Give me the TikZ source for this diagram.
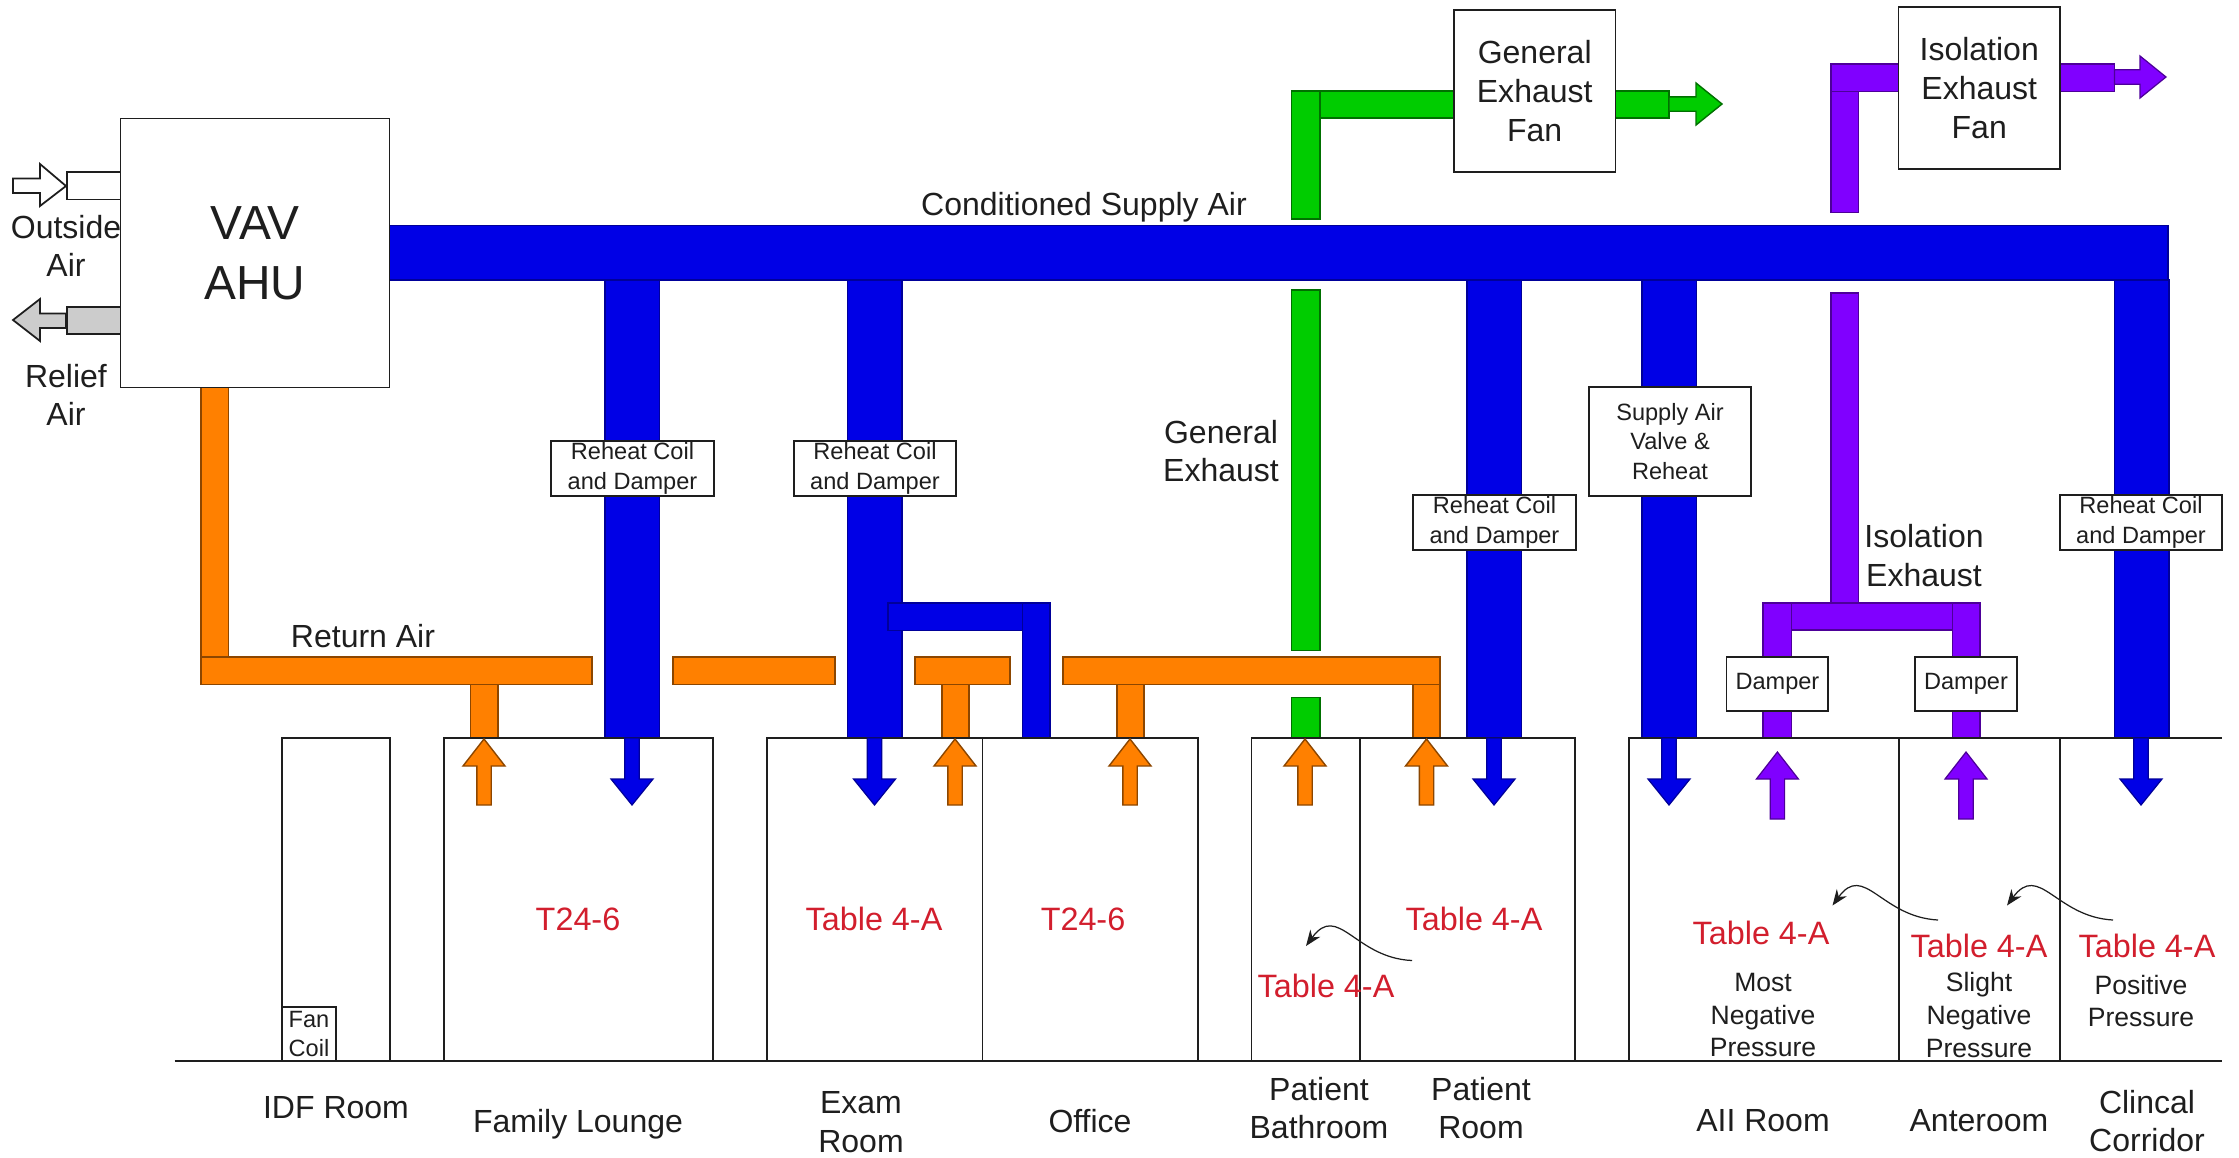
\documentclass[tikz,border=0pt]{standalone}
\usepackage{fontspec}
\setmainfont{Liberation Sans}
\usetikzlibrary{arrows.meta}
\definecolor{DuctBlue}{RGB}{0,0,230}
\definecolor{DuctOrange}{RGB}{255,128,0}
\definecolor{DuctGreen}{RGB}{0,204,0}
\definecolor{DuctPurple}{RGB}{128,0,255}
\definecolor{ReliefGray}{RGB}{204,204,204}
\definecolor{CodeRed}{RGB}{210,30,45}
\definecolor{InkGray}{RGB}{30,30,30}
\newcommand{\upflow}[3]{% x, tip, tail
  (#1-7.2,#3) -- (#1-7.2,#2+27) -- (#1-21,#2+27) -- (#1,#2)
  -- (#1+21,#2+27) -- (#1+7.2,#2+27) -- (#1+7.2,#3) -- cycle}
\newcommand{\downflow}[1]{% x
  (#1-7.2,738) -- (#1-7.2,779) -- (#1-21,779) -- (#1,805)
  -- (#1+21,779) -- (#1+7.2,779) -- (#1+7.2,738) -- cycle}
\newcommand{\rightflow}[3]{% x start, y, x tip
  (#1,#2-7.2) -- (#3-26,#2-7.2) -- (#3-26,#2-21) -- (#3,#2)
  -- (#3-26,#2+21) -- (#3-26,#2+7.2) -- (#1,#2+7.2) -- cycle}
\begin{document}
\begin{tikzpicture}[
          x=0.01cm, y=-0.01cm,
          bd/.style={draw=blue!60!black, fill=DuctBlue, line width=0.35pt},
          od/.style={draw=DuctOrange!55!black, fill=DuctOrange, line width=0.4pt},
          gd/.style={draw=DuctGreen!55!black, fill=DuctGreen, line width=0.4pt},
          pd/.style={draw=DuctPurple!60!black, fill=DuctPurple, line width=0.35pt},
          room/.style={draw=InkGray, line width=0.5pt},
          unit/.style={rectangle, draw=InkGray, fill=white, line width=0.5pt, inner sep=0pt,
                       text=InkGray, align=center},
          coil/.style={unit, font=\fontsize{6.7}{8.4}\selectfont},
          fan/.style={unit, minimum width=46mm/2.85, minimum height=46mm/2.85,
                      font=\fontsize{9.1}{11}\selectfont},
          lbl/.style={text=InkGray, align=center, inner sep=0pt,
                      font=\fontsize{9.1}{11}\selectfont},
          note/.style={text=InkGray, align=center, inner sep=0pt,
                       font=\fontsize{7.55}{9.3}\selectfont},
          code/.style={text=CodeRed, inner sep=0pt, font=\fontsize{9.2}{11}\selectfont},
          lead/.style={-{Stealth[length=4.5pt,width=3.5pt]}, InkGray, line width=0.35pt}
        ]
        \useasboundingbox (0,0) rectangle (2239,1157);

        % Outside and relief air
        \draw[room, fill=white] (67,172) rectangle (125,199.5);
        \draw[room, fill=white] (13,178.5) -- (40,178.5) -- (40,164) -- (66,186)
              -- (40,206) -- (40,193) -- (13,193) -- cycle;
        \draw[room, fill=ReliefGray] (67,307) rectangle (125,334);
        \draw[room, fill=ReliefGray] (66,313.5) -- (40,313.5) -- (40,299) -- (13,320)
              -- (40,341) -- (40,328) -- (66,328) -- cycle;

        % Return air
        \draw[od] (201,380) rectangle (228.6,657);
        \draw[od] (470.5,684) rectangle (498,738);
        \draw[od] (942,684) rectangle (969,738);
        \draw[od] (1117,684) rectangle (1144,738);
        \draw[od] (1413,684) rectangle (1440,738);
        \draw[od] (201,657) rectangle (592,684.5);
        \draw[od] (673,657) rectangle (835,684.5);
        \draw[od] (915,657) rectangle (1010,684.5);
        \draw[od] (1063,657) rectangle (1440,684.5);

        % Supply air
        \foreach \x in {605,847.4,1467,1642,2114.5}
          \draw[bd] (\x,280) rectangle (\x+54.5,738);
        \draw[bd] (1022.4,603) rectangle (1050,738);
        \draw[bd] (888,603) rectangle (1022.4,630.5);
        \draw[bd] (385,225.5) rectangle (2168,280);

        % General exhaust
        \draw[gd] (1320,91) rectangle (1460,118);
        \draw[gd] (1291.5,91) rectangle (1320,219);
        \draw[gd] (1291.5,290) rectangle (1320,650.5);
        \draw[gd] (1291.5,697.5) rectangle (1320,738);
        \draw[gd] (1610,91) rectangle (1669,118);
        \draw[gd] \rightflow{1669}{104}{1722};

        % Isolation exhaust
        \draw[pd] (1831,64) rectangle (1904,91.7);
        \draw[pd] (1831,91.7) rectangle (1858.7,212.7);
        \draw[pd] (1831,293) rectangle (1858.7,603);
        \draw[pd] (1763,603) rectangle (1791.5,738);
        \draw[pd] (1952.4,603) rectangle (1980,738);
        \draw[pd] (1791.5,603) rectangle (1952.4,630);
        \draw[pd] (2054,64) rectangle (2114.5,91.7);
        \draw[pd] \rightflow{2114.5}{77}{2166};

        % Rooms
        \draw[room] (174.5,1061) -- (2222,1061);
        \draw[room] (282,1061) -- (282,738) -- (390,738) -- (390,1061);
        \draw[room] (444,1061) -- (444,738) -- (713,738) -- (713,1061);
        \draw[room] (767,1061) -- (767,738) -- (1198,738) -- (1198,1061);
        \draw[room] (982.6,738) -- (982.6,1061);
        \draw[room] (1251.5,1061) -- (1251.5,738) -- (1575,738) -- (1575,1061);
        \draw[room] (1360,738) -- (1360,1061);
        \draw[room] (1629,1061) -- (1629,738) -- (2222,738);
        \draw[room] (1898.6,738) -- (1898.6,1061);
        \draw[room] (2060,738) -- (2060,1061);

        % Flow arrows into and out of the rooms
        \foreach \x in {632,874.5,1494,1669,2141}
          \draw[bd] \downflow{\x};
        \foreach \x in {484,955,1130,1305,1426.5}
          \draw[od] \upflow{\x}{739}{805};
        \foreach \x in {1777.4,1966}
          \draw[pd] \upflow{\x}{752}{819};

        % Air handler and fans
        \node[unit, minimum width=270*0.2835pt, minimum height=270*0.2835pt,
              font=\fontsize{13.6}{17}\selectfont] (ahu) at (255,253) {VAV\\AHU};
        \node[fan] (genfan) at (1534.7,91) {General\\Exhaust\\Fan};
        \node[fan] (isofan) at (1979.2,88) {Isolation\\Exhaust\\Fan};

        % Coils and dampers
        \node[coil, minimum width=163*0.2835pt, minimum height=55*0.2835pt] (rc1) at (632.5,468.5) {Reheat Coil\\and Damper};
        \node[coil, minimum width=163*0.2835pt, minimum height=55*0.2835pt] (rc2) at (875,468.5) {Reheat Coil\\and Damper};
        \node[coil, minimum width=163*0.2835pt, minimum height=55*0.2835pt] (rc3) at (1494.5,522.5) {Reheat Coil\\and Damper};
        \node[coil, minimum width=163*0.2835pt, minimum height=109*0.2835pt] (sav) at (1670,441.5) {Supply Air\\Valve \&\\Reheat};
        \node[coil, minimum width=163*0.2835pt, minimum height=55*0.2835pt] (rc4) at (2141,522.5) {Reheat Coil\\and Damper};
        \node[coil, minimum width=102*0.2835pt, minimum height=54*0.2835pt] (dmp1) at (1777.4,684) {Damper};
        \node[coil, minimum width=102*0.2835pt, minimum height=54*0.2835pt] (dmp2) at (1966,684) {Damper};
        \node[coil, minimum width=54*0.2835pt, minimum height=54*0.2835pt] (fcu) at (309,1034) {Fan\\Coil};

        % Duct labels
        \node[lbl] (oa)  at (66,246) {Outside\\Air};
        \node[lbl] (ra)  at (66,395) {Relief\\Air};
        \node[lbl] (sup) at (1084,207) {Conditioned Supply Air};
        \node[lbl] (ret) at (363,636) {Return Air};
        \node[lbl] (gex) at (1221,451) {General\\Exhaust};
        \node[lbl] (iex) at (1924,555.5) {Isolation\\Exhaust};

        % Ventilation codes
        \node[code] (c1) at (578,919) {T24-6};
        \node[code] (c2) at (874,919) {Table 4-A};
        \node[code] (c3) at (1083,919) {T24-6};
        \node[code] (c4) at (1326,986) {Table 4-A};
        \node[code] (c5) at (1474,919) {Table 4-A};
        \node[code] (c6) at (1761,933) {Table 4-A};
        \node[code] (c7) at (1979,946) {Table 4-A};
        \node[code] (c8) at (2147,946) {Table 4-A};

        % Pressure relations
        \node[note] (p1) at (1763,1015) {Most\\Negative\\Pressure};
        \node[note] (p2) at (1979,1015) {Slight\\Negative\\Pressure};
        \node[note] (p3) at (2141,1001) {Positive\\Pressure};
        \coordinate (a1) at (1412,960.5);
        \coordinate (b1) at (1306,946);
        \coordinate (a2) at (1938,920);
        \coordinate (b2) at (1832.5,905.5);
        \coordinate (a3) at (2113,920);
        \coordinate (b3) at (2007,905.5);
        \draw[lead] (a1) .. controls (1355,958) and (1338,902) .. (b1);
        \draw[lead] (a2) .. controls (1881,917) and (1864,862) .. (b2);
        \draw[lead] (a3) .. controls (2056,917) and (2039,862) .. (b3);

        % Room names
        \node[lbl] (r1)  at (336,1108) {IDF Room};
        \node[lbl] (r2)  at (578,1124) {Family Lounge};
        \node[lbl] (r3)  at (861,1122) {Exam\\Room};
        \node[lbl] (r4)  at (1090,1121) {Office};
        \node[lbl] (r5)  at (1319,1108) {Patient\\Bathroom};
        \node[lbl] (r6)  at (1481,1108) {Patient\\Room};
        \node[lbl] (r7)  at (1763,1121) {AII Room};
        \node[lbl] (r8)  at (1979,1121) {Anteroom};
        \node[lbl] (r9)  at (2147,1121) {Clincal\\Corridor};
      \end{tikzpicture}
\end{document}
